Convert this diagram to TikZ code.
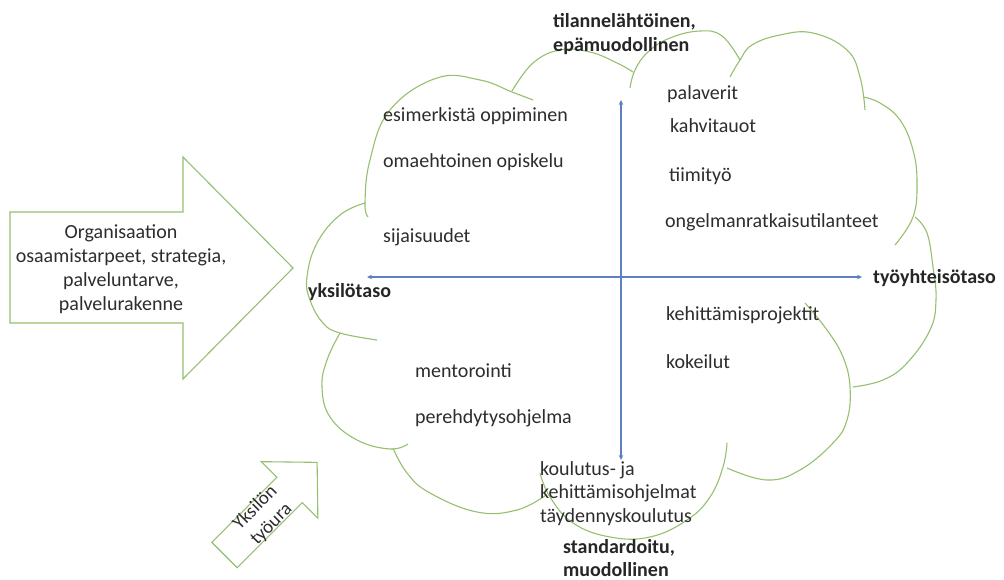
\documentclass[tikz,border=0pt]{standalone}
\usepackage{fontspec}
\setmainfont{Carlito}
\usetikzlibrary{arrows.meta}
\definecolor{cloudgreen}{RGB}{150,192,112}
\definecolor{axisblue}{RGB}{95,128,192}
\definecolor{txt}{RGB}{45,45,45}
\begin{document}
\begin{tikzpicture}[x=1pt,y=-1pt,
  cloudline/.style={draw=cloudgreen, line width=1.1pt},
  shapeline/.style={draw=cloudgreen, line width=1.1pt, line join=miter},
  axis/.style={draw=axisblue, line width=1.2pt, {Stealth[length=5pt,width=4.5pt]}-{Stealth[length=5pt,width=4.5pt]}},
  lbl/.style={font=\fontsize{20}{24}\selectfont, text=txt, inner sep=0pt, anchor=base west},
  blbl/.style={font=\fontsize{20}{24}\selectfont\bfseries, text=black!85, inner sep=0pt, anchor=base west},
  arrowtext/.style={font=\fontsize{20}{24}\selectfont, text=txt, align=center, inner sep=0pt}
]
\useasboundingbox (0,0) rectangle (1004,580);
\fill[white] (0,0) rectangle (1004,580);

% ---- cloud (bumps) ----
\draw[cloudline] plot[smooth, tension=0.7] coordinates {(368,217) (365,203) (370,160) (390,110) (437,78) (480,80) (512,92) (533,100)};
\draw[cloudline] plot[smooth, tension=0.7] coordinates {(512,91) (533,63) (560,50) (590,52) (617,63) (633,72)};
\draw[cloudline] plot[smooth, tension=0.7] coordinates {(630,88) (635,70) (648,52) (670,38) (700,31) (722,36) (740,60)};
\draw[cloudline] plot[smooth, tension=0.7] coordinates {(730,77) (740,60) (752,45) (780,35) (813,33) (847,50) (860,77) (865,110)};
\draw[cloudline] plot[smooth, tension=0.7] coordinates {(863,97) (880,103) (900,120) (913,150) (917,183) (913,217) (895,245)};
\draw[cloudline] plot[smooth, tension=0.7] coordinates {(915,217) (927,233) (933,267) (936,300) (930,330) (907,363) (883,380) (853,387)};
\draw[cloudline] plot[smooth, tension=0.7] coordinates {(805,303) (827,330) (843,357) (850,387) (847,420) (833,443) (800,470) (767,480) (727,468)};
\draw[cloudline] plot[smooth, tension=0.7] coordinates {(727,443) (723,467) (710,497) (687,520) (650,537) (610,537) (573,523) (550,497) (540,473)};
\draw[cloudline] plot[smooth, tension=0.7] coordinates {(393,448) (407,473) (430,493) (477,512) (517,510) (546,495)};
\draw[cloudline] plot[smooth, tension=0.7] coordinates {(340,333) (327,360) (322,387) (330,417) (357,440) (390,449) (408,444)};
\draw[cloudline] plot[smooth, tension=0.7] coordinates {(365,203) (340,215) (317,243) (307,277) (310,300) (323,323) (340,333) (377,340)};

% ---- axes ----
\coordinate (L) at (367,277);
\coordinate (R) at (862,277);
\coordinate (T) at (621,100);
\coordinate (B) at (621,460);
\draw[axis] (L) -- (R);
\draw[axis] (B) -- (T);

% ---- big arrow ----
\draw[shapeline] (10,212) -- (183,212) -- (183,157) -- (293,268) -- (183,379) -- (183,323) -- (10,323) -- cycle;
\node[arrowtext] (org) at (121,269) {Organisaation\\osaamistarpeet, strategia,\\palveluntarve,\\palvelurakenne};

% ---- small arrow (career) ----
\begin{scope}[shift={(224.5,555)}, rotate=45]
  \draw[shapeline] (0,-18) -- (92,-18) -- (92,-40) -- (131,0) -- (92,40) -- (92,18) -- (0,18) -- cycle;
  \node[arrowtext, font=\fontsize{19}{23}\selectfont, rotate=45] (ura) at (55,0) {Yksilön\\työura};
\end{scope}

% ---- labels ----
\node[blbl] (t1) at (553,28) {tilannelähtöinen,};
\node[blbl] (t2) at (553,52) {epämuodollinen};
\node[lbl] (a1) at (383,122) {esimerkistä oppiminen};
\node[lbl] (a2) at (383,168) {omaehtoinen opiskelu};
\node[lbl] (a3) at (383,243) {sijaisuudet};
\node[blbl] (yk) at (308,297) {yksilötaso};
\node[lbl] (b1) at (415,377) {mentorointi};
\node[lbl] (b2) at (415,423) {perehdytysohjelma};
\node[lbl] (c1) at (540,475) {koulutus- ja};
\node[lbl] (c2) at (540,498) {kehittämisohjelmat};
\node[lbl] (c3) at (540,522) {täydennyskoulutus};
\node[blbl] (s1) at (563,553) {standardoitu,};
\node[blbl] (s2) at (563,576) {muodollinen};
\node[lbl] (d1) at (667,100) {palaverit};
\node[lbl] (d2) at (670,133) {kahvitauot};
\node[lbl] (d3) at (669,182) {tiimityö};
\node[lbl] (d4) at (665,228) {ongelmanratkaisutilanteet};
\node[blbl] (ty) at (873,283) {työyhteisötaso};
\node[lbl] (e1) at (666,320) {kehittämisprojektit};
\node[lbl] (e2) at (666,368) {kokeilut};
\end{tikzpicture}
\end{document}
